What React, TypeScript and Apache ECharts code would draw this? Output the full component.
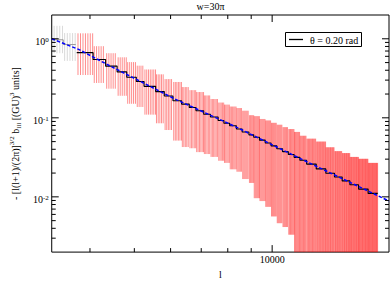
import React, { useEffect, useRef } from "react";
import * as echarts from "echarts";

// ---- data ----
// gray (first) bins: edges in l, low/high/mean of the error bars
const grayEdges = [3316, 3497, 3724];
const grayLow = [0.657, 0.525];
const grayHigh = [1.459, 1.183];
const grayMean = [0.972, 0.846];

// red bins: edges in l
const binEdges = [3742, 4063, 4327, 4585, 4812, 5050, 5250, 5565, 5813, 6072, 6341, 6591, 6818, 7087, 7331, 7621, 7845, 8076, 8354, 8600, 8897, 9115, 9383, 9659, 9944, 10237, 10538, 10848, 11168, 11497, 11893, 12483, 13100, 13683, 14223, 14785, 15443, 16205, 17008];
const binHigh = [1.173, 0.806, 0.657, 0.583, 0.507, 0.457, 0.409, 0.355, 0.309, 0.284, 0.245, 0.224, 0.212, 0.192, 0.173, 0.156, 0.147, 0.139, 0.133, 0.123, 0.108, 0.105, 0.0967, 0.0927, 0.0865, 0.0818, 0.0762, 0.0721, 0.0663, 0.0593, 0.0545, 0.0501, 0.0424, 0.0379, 0.0358, 0.032, 0.0303, 0.0269];
const binLow = [0.348, 0.276, 0.2335, 0.19, 0.1505, 0.1372, 0.1097, 0.0853, 0.0701, 0.0515, 0.0427, 0.0412, 0.0368, 0.0348, 0.032, 0.0286, 0.0269, 0.0223, 0.0208, 0.0168, 0.015, 0.00962, 0.00884, 0.00747, 0.00565, 0.00464, 0.00415, 0.00332, 0.001, 0.001, 0.001, 0.001, 0.001, 0.001, 0.001, 0.001, 0.001, 0.001];
const binMean = [0.668, 0.548, 0.4505, 0.381, 0.3266, 0.288, 0.2503, 0.2147, 0.1892, 0.1646, 0.1492, 0.1353, 0.1227, 0.1112, 0.1023, 0.0927, 0.0853, 0.0795, 0.0721, 0.0663, 0.0609, 0.0568, 0.0522, 0.048, 0.0442, 0.0406, 0.03735, 0.03434, 0.0316, 0.029, 0.02596, 0.02257, 0.0199, 0.0178, 0.01591, 0.01423, 0.01254, 0.01106];
// spacing of the individual l values inside a bin
const barStepL = 48;

// theory curve (blue dashed)
const theoryL = [3300, 3778, 4455, 6131, 8272, 11440, 18000];
const theoryV = [1.0, 0.735, 0.444, 0.173, 0.0784, 0.0311, 0.00885];

// axes
const xMin = 3300;
const xMax = 18000;
const yMin = 0.002;
const yMax = 2;
const xMinorTicks = [4000, 5000, 6000, 7000, 8000, 9000];
const xMajorTicks = [10000];
const yMinorTicks = [0.003, 0.004, 0.005, 0.006, 0.007, 0.008, 0.009, 0.02, 0.03, 0.04, 0.05, 0.06, 0.07, 0.08, 0.09, 0.2, 0.3, 0.4, 0.5, 0.6, 0.7, 0.8, 0.9];
const yMajorTicks = [0.01, 0.1, 1];

const FONT = "Liberation Serif";

export default function App() {
  const ref = useRef<HTMLDivElement>(null);
  useEffect(() => {
    if (!ref.current) return;
    const chart = echarts.init(ref.current, undefined, { renderer: "svg" });

    const barRender = (color: string) => (params: any, api: any) => {
      const start = api.value(0);
      const end = api.value(1);
      const low = api.value(2);
      const high = api.value(3);
      const cs = params.coordSys;
      const children: any[] = [];
      for (let l = start + barStepL / 2; l < end; l += barStepL) {
        const p1 = api.coord([l, high]);
        const p2 = api.coord([l, low]);
        const y1 = Math.max(p1[1], cs.y);
        const y2 = Math.min(p2[1], cs.y + cs.height);
        children.push({
          type: "line",
          shape: { x1: p1[0], y1, x2: p1[0], y2 },
          style: { stroke: color, lineWidth: 1 },
        });
      }
      return { type: "group", children };
    };

    const grayBins = grayLow.map((lo, i) => [grayEdges[i], grayEdges[i + 1], lo, grayHigh[i]]);
    const redBins = binLow.map((lo, i) => [binEdges[i], binEdges[i + 1], lo, binHigh[i]]);

    const grayLine = grayMean.map((m, i) => [grayEdges[i], m]);
    grayLine.push([grayEdges[grayEdges.length - 1], grayMean[grayMean.length - 1]]);
    const meanLine = binMean.map((m, i) => [binEdges[i], m]);
    meanLine.push([binEdges[binEdges.length - 1], binMean[binMean.length - 1]]);
    const theory = theoryL.map((l, i) => [l, theoryV[i]]);

    const xTickData = [
      ...xMinorTicks.map((v) => [v, 1, 0]),
      ...xMajorTicks.map((v) => [v, 1, 1]),
    ];
    const yTickData = [
      ...yMinorTicks.map((v) => [5000, v, 0]),
      ...yMajorTicks.map((v) => [5000, v, 1]),
    ];

    const tickStyle = { stroke: "#000", lineWidth: 1 };

    chart.setOption({
      animation: false,
      backgroundColor: "#fff",
      textStyle: { fontFamily: FONT },
      grid: {
        left: 38,
        top: 15,
        right: 3,
        bottom: 22,
        show: true,
        borderColor: "#000",
        borderWidth: 1,
        backgroundColor: "transparent",
      },
      xAxis: {
        type: "log",
        logBase: 10,
        min: xMin,
        max: xMax,
        name: "l",
        nameLocation: "middle",
        nameGap: 11,
        nameTextStyle: { fontFamily: FONT, fontSize: 10, color: "#000" },
        axisLine: { show: false },
        axisTick: { show: false },
        splitLine: { show: false },
        axisLabel: {
          margin: 2,
          fontFamily: FONT,
          fontSize: 10,
          color: "#000",
          showMinLabel: false,
          showMaxLabel: false,
          formatter: (v: number) => {
            const e = Math.log10(v);
            return Math.abs(e - Math.round(e)) < 1e-6 ? String(Math.round(v)) : "";
          },
        },
      },
      yAxis: {
        type: "log",
        logBase: 10,
        min: yMin,
        max: yMax,
        name:
          "{t|- [l(l+1)/(2π)]}{sup|3/2}{t| b}{sub|lll}{t| [(GU)}{sup|3}{t| units]}",
        nameLocation: "middle",
        nameRotate: 90,
        nameGap: 19,
        nameTextStyle: {
          fontFamily: FONT,
          fontSize: 10,
          color: "#000",
          rich: {
            t: { fontFamily: FONT, fontSize: 10, lineHeight: 14, color: "#000" },
            sup: { fontFamily: FONT, fontSize: 7, lineHeight: 8, verticalAlign: "top", color: "#000" },
            sub: { fontFamily: FONT, fontSize: 7, lineHeight: 8, verticalAlign: "bottom", color: "#000" },
          },
        },
        axisLine: { show: false },
        axisTick: { show: false },
        splitLine: { show: false },
        axisLabel: {
          margin: 3,
          showMinLabel: false,
          showMaxLabel: false,
          formatter: (v: number) => {
            const e = Math.log10(v);
            const r = Math.round(e);
            if (Math.abs(e - r) > 1e-6) return "";
            return "{b|10}{s|" + (r < 0 ? "-" + Math.abs(r) : String(r)) + "}";
          },
          rich: {
            b: { fontFamily: FONT, fontSize: 10, lineHeight: 12, padding: [5, 0, 0, 0], color: "#000" },
            s: { fontFamily: FONT, fontSize: 7, lineHeight: 7, padding: [4, 0, 0, 0], verticalAlign: "top", color: "#000" },
          },
        },
      },
      series: [
        {
          type: "custom",
          name: "grayBars",
          renderItem: barRender("rgba(150,150,150,0.35)"),
          encode: { x: [0, 1], y: [2, 3] },
          data: grayBins,
          z: 1,
          silent: true,
        },
        {
          type: "custom",
          name: "redBars",
          renderItem: barRender("rgba(255,0,0,0.45)"),
          encode: { x: [0, 1], y: [2, 3] },
          data: redBins,
          z: 1,
          silent: true,
        },
        {
          type: "line",
          name: "gray mean",
          data: grayLine,
          step: "end",
          symbol: "none",
          lineStyle: { color: "#999", width: 1 },
          z: 2,
          silent: true,
        },
        {
          type: "line",
          name: "θ = 0.20 rad",
          data: meanLine,
          step: "end",
          symbol: "none",
          lineStyle: { color: "#000", width: 1.1 },
          z: 3,
          silent: true,
        },
        {
          type: "line",
          name: "theory",
          data: theory,
          symbol: "none",
          lineStyle: { color: "#0000ff", width: 1.5, type: [3.5, 2] },
          z: 4,
          silent: true,
        },
        {
          type: "custom",
          name: "xticks",
          encode: { x: 0, y: 1 },
          data: xTickData,
          z: 5,
          silent: true,
          renderItem: (params: any, api: any) => {
            const cs = params.coordSys;
            const x = api.coord([api.value(0), 1])[0];
            const len = api.value(2) ? 7 : 4;
            const b = cs.y + cs.height;
            return {
              type: "group",
              children: [
                { type: "line", shape: { x1: x, y1: b, x2: x, y2: b - len }, style: tickStyle },
                { type: "line", shape: { x1: x, y1: cs.y, x2: x, y2: cs.y + len }, style: tickStyle },
              ],
            };
          },
        },
        {
          type: "custom",
          name: "yticks",
          encode: { x: 0, y: 1 },
          data: yTickData,
          z: 5,
          silent: true,
          renderItem: (params: any, api: any) => {
            const cs = params.coordSys;
            const y = api.coord([5000, api.value(1)])[1];
            const len = api.value(2) ? 7 : 4;
            const r = cs.x + cs.width;
            return {
              type: "group",
              children: [
                { type: "line", shape: { x1: cs.x, y1: y, x2: cs.x + len, y2: y }, style: tickStyle },
                { type: "line", shape: { x1: r, y1: y, x2: r - len, y2: y }, style: tickStyle },
              ],
            };
          },
        },
      ],
      graphic: [
        {
          type: "text",
          x: 210.5,
          y: 6,
          style: {
            text: "w=30π",
            font: `10px "${FONT}"`,
            fill: "#000",
            textAlign: "center",
            textVerticalAlign: "middle",
          },
        },
        {
          type: "rect",
          shape: { x: 285.5, y: 32.5, width: 76, height: 14 },
          style: { fill: "#fff", stroke: "#000", lineWidth: 1 },
          z: 10,
        },
        {
          type: "line",
          shape: { x1: 289, y1: 39.5, x2: 303, y2: 39.5 },
          style: { stroke: "#000", lineWidth: 1.3 },
          z: 11,
        },
        {
          type: "text",
          x: 310,
          y: 40,
          style: {
            text: "θ = 0.20 rad",
            font: `10px "${FONT}"`,
            fill: "#000",
            textAlign: "left",
            textVerticalAlign: "middle",
          },
          z: 11,
        },
      ],
    });
    return () => chart.dispose();
  }, []);
  return (
    <div
      ref={ref}
      style={{ position: "fixed", left: 0, top: 0, width: 392, height: 284, background: "#fff" }}
    />
  );
}
